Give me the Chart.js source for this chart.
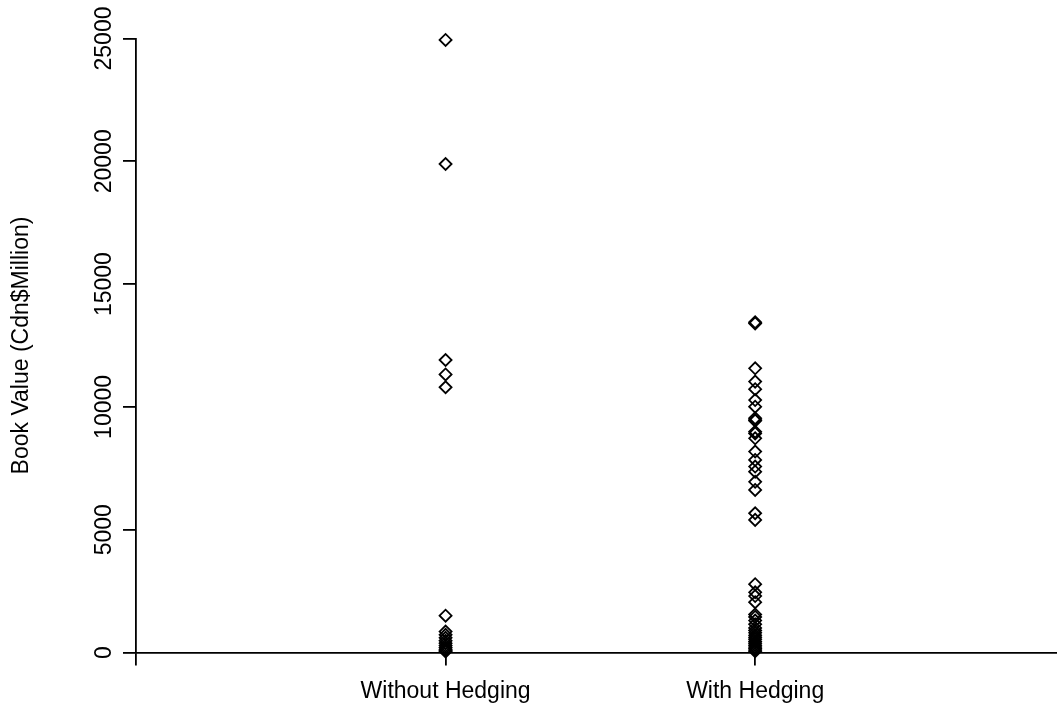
<!DOCTYPE html>
<html>
<head>
<meta charset="utf-8">
<script src="https://cdn.jsdelivr.net/npm/chart.js@4.4.0/dist/chart.umd.min.js"></script>
<style>
  html, body { margin: 0; padding: 0; background: #ffffff; }
  #wrap { width: 1057px; height: 708px; position: relative; }
</style>
</head>
<body>
<div id="wrap"><canvas id="c" width="1057" height="708"></canvas></div>
<script>
// ---- data ----
const categories = ['Without Hedging', 'With Hedging'];
const withoutHedging = [24940, 19890, 11910, 11320, 10800, 1500, 850, 720, 600, 480, 380, 280, 200, 130, 80, 40];
const withHedging = [13450, 13400, 11570, 11030, 10720, 10280, 10010, 9540, 9470, 9440, 8990, 8920, 8720,
  8180, 7840, 7570, 7360, 6950, 6620, 5670, 5400,
  2780, 2450, 2300, 2050, 1550, 1450, 1300, 1150, 1000, 900, 800, 700, 620, 540, 450, 380, 300, 220, 160, 100, 50];
const yTickValues = [0, 5000, 10000, 15000, 20000, 25000];
const yAxisTitle = 'Book Value (Cdn$Million)';

const FONT = 'Liberation Sans, Arial, Helvetica, sans-serif';

function toPoints(idx, values) {
  return values.map(v => ({ x: idx, y: v }));
}

const pointStyle = {
  pointStyle: 'rectRot',
  pointRadius: 6,
  pointHoverRadius: 6,
  pointBorderWidth: 1.8,
  pointBorderColor: '#000000',
  pointBackgroundColor: 'rgba(0,0,0,0)',
  showLine: false,
  clip: false
};

new Chart(document.getElementById('c'), {
  type: 'scatter',
  data: {
    datasets: [
      Object.assign({ label: categories[0], data: toPoints(1, withoutHedging) }, pointStyle),
      Object.assign({ label: categories[1], data: toPoints(2, withHedging) }, pointStyle)
    ]
  },
  options: {
    responsive: false,
    animation: false,
    events: [],
    layout: { padding: { top: 38.5, right: 0, bottom: 0, left: 0 }, autoPadding: false },
    plugins: { legend: { display: false }, tooltip: { enabled: false } },
    scales: {
      x: {
        type: 'linear',
        min: 0,
        max: 2.975,
        afterBuildTicks: (s) => { s.ticks = [0, 1, 2].map(v => ({ value: v })); },
        afterFit: (s) => { s.height = 55.5; },
        grid: { drawOnChartArea: false, drawTicks: true, tickLength: 13, color: '#000000', lineWidth: 1.8 },
        border: { display: true, color: '#000000', width: 1.8 },
        ticks: {
          autoSkip: false,
          maxRotation: 0,
          minRotation: 0,
          padding: 12,
          color: '#000000',
          font: { family: FONT, size: 23 },
          callback: (v) => (v >= 1 && v <= categories.length) ? categories[v - 1] : ''
        }
      },
      y: {
        type: 'linear',
        min: 0,
        max: 25000,
        afterBuildTicks: (s) => { s.ticks = yTickValues.map(v => ({ value: v })); },
        afterFit: (s) => { s.width = 136; },
        grid: { drawOnChartArea: false, drawTicks: true, tickLength: 13, color: '#000000', lineWidth: 1.8 },
        border: { display: true, color: '#000000', width: 1.8 },
        title: {
          display: true,
          text: yAxisTitle,
          color: '#000000',
          font: { family: FONT, size: 23 },
          padding: { top: 8, bottom: 0 }
        },
        ticks: {
          autoSkip: false,
          minRotation: 90,
          maxRotation: 90,
          crossAlign: 'center',
          padding: -13.5,
          color: '#000000',
          font: { family: FONT, size: 23 },
          callback: (v) => String(v)
        }
      }
    }
  }
});
</script>
</body>
</html>
